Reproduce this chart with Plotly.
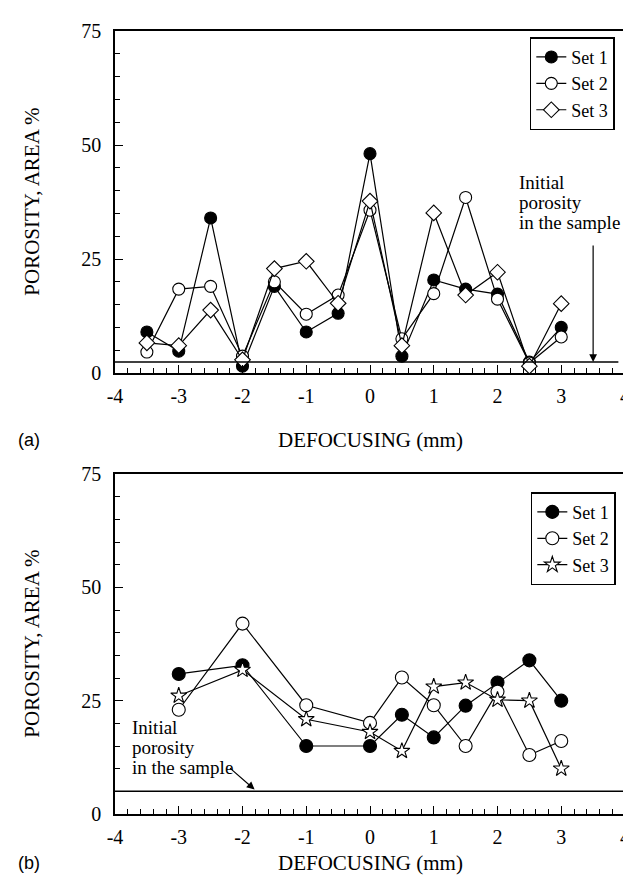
import plotly.graph_objects as go

# ---------------- data ----------------
x_top = [-3.5, -3, -2.5, -2, -1.5, -1, -0.5, 0, 0.5, 1, 1.5, 2, 2.5, 3]
top_set1 = [9.0, 4.8, 34.0, 1.5, 19.0, 9.0, 13.1, 48.1, 3.7, 20.4, 18.4, 17.3, 2.4, 10.0]
top_set2 = [4.6, 18.4, 19.0, 3.7, 20.0, 12.9, 17.1, 35.7, 7.5, 17.4, 38.5, 16.2, 2.2, 7.9]
top_set3 = [6.6, 6.0, 13.8, 2.9, 22.9, 24.5, 15.3, 37.7, 6.0, 35.1, 17.1, 22.1, 1.5, 15.2]
top_initial = 2.4

x_bot = [-3, -2, -1, 0, 0.5, 1, 1.5, 2, 2.5, 3]
bot_set1 = [30.9, 32.8, 15.0, 15.0, 21.9, 16.9, 23.9, 29.0, 33.9, 25.0]
bot_set2 = [23.0, 42.0, 24.0, 20.1, 30.1, 24.0, 15.0, 27.0, 13.0, 16.1]
bot_set3 = [26.1, 31.8, 20.9, 18.1, 13.9, 28.1, 29.0, 25.2, 25.0, 10.0]
bot_initial = 5.0

series_names = ["Set 1", "Set 2", "Set 3"]
x_ticks = [-4, -3, -2, -1, 0, 1, 2, 3, 4]
y_ticks = [0, 25, 50, 75]

SERIF = "'Liberation Serif', 'Times New Roman', Times, serif"
SANS = "'Liberation Sans', Arial, sans-serif"

fig = go.Figure()

def add_series(x, y, name, symbol, fill, size, xa, ya, legend):
    fig.add_trace(go.Scatter(
        x=x, y=y, name=name, mode="lines+markers",
        line=dict(color="black", width=1.2),
        marker=dict(symbol=symbol, size=size, color=fill,
                    line=dict(color="black", width=1.1)),
        xaxis=xa, yaxis=ya, legend=legend,
    ))

# top panel
add_series(x_top, top_set1, series_names[0], "circle", "black", 12, "x", "y", "legend")
add_series(x_top, top_set2, series_names[1], "circle", "white", 12, "x", "y", "legend")
add_series(x_top, top_set3, series_names[2], "diamond", "white", 12, "x", "y", "legend")
# bottom panel
add_series(x_bot, bot_set1, series_names[0], "circle", "black", 13, "x2", "y2", "legend2")
add_series(x_bot, bot_set2, series_names[1], "circle", "white", 13, "x2", "y2", "legend2")
add_series(x_bot, bot_set3, series_names[2], "star", "white", 12, "x2", "y2", "legend2")

axis_common = dict(
    range=[-4, 4], tickvals=x_ticks, ticktext=[str(v) for v in x_ticks],
    ticks="inside", ticklen=8, tickwidth=1.2, tickcolor="black",
    minor=dict(dtick=0.2, ticks="inside", ticklen=5, tickwidth=1, tickcolor="black"),
    showline=True, linecolor="black", linewidth=1.6, mirror=True,
    showgrid=False, zeroline=False, ticklabelstandoff=4, ticklabeloverflow="allow",
    tickfont=dict(family=SERIF, size=20, color="black"),
)
yaxis_common = dict(
    range=[0, 75], tickvals=y_ticks, ticktext=[str(v) for v in y_ticks],
    ticks="inside", ticklen=8, tickwidth=1.2, tickcolor="black",
    minor=dict(dtick=5, ticks="inside", ticklen=5, tickwidth=1, tickcolor="black"),
    showline=True, linecolor="black", linewidth=1.6, mirror=True,
    showgrid=False, zeroline=False, ticklabelstandoff=8,
    tickfont=dict(family=SERIF, size=20, color="black"),
)

legend_common = dict(
    bgcolor="white", bordercolor="black", borderwidth=1.5,
    font=dict(family=SERIF, size=18, color="black"),
    xanchor="right", yanchor="top", tracegroupgap=0, itemwidth=30,
)

fig.update_layout(
    width=631, height=877,
    margin=dict(l=107, r=9, t=23, b=71),
    paper_bgcolor="white", plot_bgcolor="white",
    font=dict(family=SERIF, color="black"),
    xaxis=dict(axis_common, anchor="y", domain=[0, 1]),
    yaxis=dict(yaxis_common, anchor="x", domain=[0.5632, 1]),
    xaxis2=dict(axis_common, anchor="y2", domain=[0, 1]),
    yaxis2=dict(yaxis_common, anchor="x2", domain=[0, 0.4342]),
    legend=dict(legend_common, x=0.98, y=0.992),
    legend2=dict(legend_common, x=0.982, y=0.411),
    showlegend=True,
)

# initial porosity reference lines
fig.add_shape(type="line", xref="x domain", yref="y", x0=0, x1=0.987,
              y0=top_initial, y1=top_initial, line=dict(color="black", width=1.5))
fig.add_shape(type="line", xref="x2 domain", yref="y2", x0=0, x1=1,
              y0=bot_initial, y1=bot_initial, line=dict(color="black", width=1.5))

txt_font = dict(family=SERIF, size=19, color="black")
label_lines = ["Initial", "porosity", "in the sample"]

# top annotation text
for i, t in enumerate(label_lines):
    fig.add_annotation(x=2.31, y=41.8 - 4.45 * i, xref="x", yref="y", text=t,
                       showarrow=False, xanchor="left", yanchor="middle", font=txt_font)
# top arrow
fig.add_annotation(x=3.5, y=top_initial, ax=3.5, ay=28.3, xref="x", yref="y",
                   axref="x", ayref="y", text="", showarrow=True,
                   arrowhead=2, arrowsize=1.3, arrowwidth=1.2, arrowcolor="black")

# bottom annotation text
for i, t in enumerate(label_lines):
    fig.add_annotation(x=-3.77, y=19.0 - 4.4 * i, xref="x2", yref="y2", text=t,
                       showarrow=False, xanchor="left", yanchor="middle", font=txt_font)
# bottom arrow
fig.add_annotation(x=-1.81, y=bot_initial + 0.4, ax=-2.22, ay=10.4, xref="x2", yref="y2",
                   axref="x2", ayref="y2", text="", showarrow=True,
                   arrowhead=2, arrowsize=1.3, arrowwidth=1.2, arrowcolor="black")

title_font = dict(family=SERIF, size=21, color="black")
# x axis titles
fig.add_annotation(x=0.5, y=0.4777, xref="paper", yref="paper", text="DEFOCUSING (mm)",
                   showarrow=False, xanchor="center", yanchor="middle", font=title_font)
fig.add_annotation(x=0.5, y=-0.0626, xref="paper", yref="paper", text="DEFOCUSING (mm)",
                   showarrow=False, xanchor="center", yanchor="middle", font=title_font)
# y axis titles
fig.add_annotation(x=-0.1634, y=0.7816, xref="paper", yref="paper", text="POROSITY, AREA %",
                   textangle=-90, showarrow=False, xanchor="center", yanchor="middle", font=title_font)
fig.add_annotation(x=-0.1634, y=0.2171, xref="paper", yref="paper", text="POROSITY, AREA %",
                   textangle=-90, showarrow=False, xanchor="center", yanchor="middle", font=title_font)
# panel labels
panel_font = dict(family=SANS, size=18, color="black")
fig.add_annotation(x=-0.1946, y=0.4777, xref="paper", yref="paper", text="(a)",
                   showarrow=False, xanchor="left", yanchor="middle", font=panel_font)
fig.add_annotation(x=-0.1946, y=-0.0626, xref="paper", yref="paper", text="(b)",
                   showarrow=False, xanchor="left", yanchor="middle", font=panel_font)

fig.write_html("out.html")
